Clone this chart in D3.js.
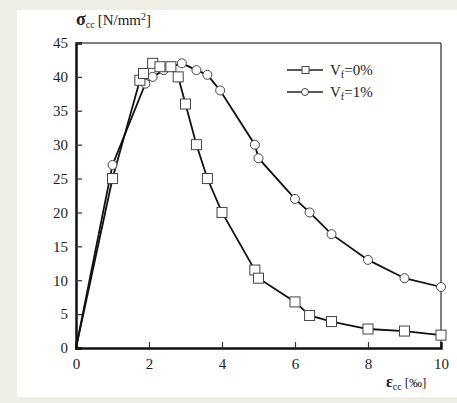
<!DOCTYPE html>
<html>
<head>
<meta charset="utf-8">
<script src="https://cdn.jsdelivr.net/npm/d3@7"></script>
<style>
  body { margin: 0; background: #efeee5; }
  text { font-family: "Liberation Serif", "DejaVu Serif", serif; fill: #222; }
</style>
</head>
<body>
<div id="chart"></div>
<script>
// strain [per mille] / stress [N/mm2]
var series0 = [[0,0],[1.0,25],[1.75,39.5],[1.85,40.5],[2.1,42],[2.3,41.5],[2.6,41.5],[2.8,40],[3.0,36],[3.3,30],[3.6,25],[4.0,20],[4.9,11.5],[5.0,10.3],[6.0,6.8],[6.4,4.8],[7.0,3.9],[8.0,2.8],[9.0,2.5],[10,1.9]];
var series1 = [[0,0],[1.0,27],[1.9,39],[2.1,40],[2.4,41],[2.6,41.5],[2.9,42],[3.3,41],[3.6,40.3],[3.95,38],[4.9,30],[5.0,28],[6.0,22],[6.4,20],[7.0,16.8],[8.0,13],[9.0,10.3],[10,9]];
var yTicks = [0,5,10,15,20,25,30,35,40,45];
var xTicks = [0,2,4,6,8,10];
var legendLabels = ["0%", "1%"];

var width = 457, height = 403;
var svg = d3.select("#chart").append("svg")
    .attr("width", width).attr("height", height);

// white panel
svg.append("rect").attr("x", 17).attr("y", 10)
    .attr("width", width - 17).attr("height", 387).attr("fill", "#fff");

var x = d3.scaleLinear().domain([0, 10]).range([76, 441]);
var y = d3.scaleLinear().domain([0, 45]).range([348, 43]);

// frame: top/right thin
svg.append("line").attr("x1", x(0)).attr("x2", x(10)).attr("y1", y(45)).attr("y2", y(45))
    .attr("stroke", "#555").attr("stroke-width", 1.5);
svg.append("line").attr("x1", x(10)).attr("x2", x(10)).attr("y1", y(45)).attr("y2", y(0))
    .attr("stroke", "#555").attr("stroke-width", 1.5);

// axes
var yAxis = d3.axisLeft(y).tickValues(yTicks).tickSize(-6).tickPadding(8);
var gy = svg.append("g").attr("transform", "translate(" + x(0) + ",0)").call(yAxis);
gy.select(".domain").attr("stroke", "#111").attr("stroke-width", 2.5);
gy.selectAll(".tick line").attr("stroke", "#333").attr("stroke-width", 1.2);
gy.selectAll(".tick text").style("font-size", "15px").attr("fill", "#222")
    .style("font-family", "Liberation Serif, serif");

var xAxis = d3.axisBottom(x).tickValues(xTicks).tickSize(-6).tickPadding(10);
var gx = svg.append("g").attr("transform", "translate(0," + y(0) + ")").call(xAxis);
gx.select(".domain").attr("stroke", "#111").attr("stroke-width", 2.5);
gx.selectAll(".tick line").attr("stroke", "#333").attr("stroke-width", 1.2)
    .attr("display", function(d) { return (d === 0 || d === 10) ? "none" : null; });
gx.selectAll(".tick text").style("font-size", "15px").attr("fill", "#222")
    .style("font-family", "Liberation Serif, serif");

// lines
var line = d3.line().x(function(d) { return x(d[0]); }).y(function(d) { return y(d[1]); });
[series0, series1].forEach(function(s) {
  svg.append("path").datum(s).attr("d", line)
      .attr("fill", "none").attr("stroke", "#111").attr("stroke-width", 1.8);
});

// markers
svg.append("g").selectAll("circle").data(series1.slice(1)).enter().append("circle")
    .attr("cx", function(d) { return x(d[0]); })
    .attr("cy", function(d) { return y(d[1]); })
    .attr("r", 4.5).attr("fill", "#fff").attr("stroke", "#444").attr("stroke-width", 1);
svg.append("g").selectAll("rect").data(series0.slice(1)).enter().append("rect")
    .attr("x", function(d) { return x(d[0]) - 5; })
    .attr("y", function(d) { return y(d[1]) - 5; })
    .attr("width", 10).attr("height", 10)
    .attr("fill", "#fff").attr("stroke", "#444").attr("stroke-width", 1);

// legend
var leg = svg.append("g");
legendLabels.forEach(function(lab, i) {
  var ly = 70 + i * 22;
  leg.append("line").attr("x1", 287).attr("x2", 323).attr("y1", ly).attr("y2", ly)
      .attr("stroke", "#222").attr("stroke-width", 1.5);
  if (i === 0) {
    leg.append("rect").attr("x", 302).attr("y", ly - 3.5).attr("width", 7).attr("height", 7)
        .attr("fill", "#fff").attr("stroke", "#444");
  } else {
    leg.append("circle").attr("cx", 305).attr("cy", ly).attr("r", 3.5)
        .attr("fill", "#fff").attr("stroke", "#444");
  }
  var t = leg.append("text").attr("x", 330).attr("y", ly + 5).style("font-size", "15px");
  t.append("tspan").text("V");
  t.append("tspan").attr("dy", 3).style("font-size", "10px").text("f");
  t.append("tspan").attr("dy", -3).text("=" + lab);
});

// axis titles
var ty = svg.append("text").attr("x", 76).attr("y", 25).style("font-size", "15px");
ty.append("tspan").style("font-weight", "bold").style("font-size", "18px").text("σ");
ty.append("tspan").attr("dy", 3).style("font-size", "10px").text("cc");
ty.append("tspan").attr("dy", -3).attr("dx", 3).text("[N/mm");
ty.append("tspan").attr("dy", -5).style("font-size", "10px").text("2");
ty.append("tspan").attr("dy", 5).text("]");

var tx = svg.append("text").attr("x", 386).attr("y", 387).style("font-size", "13px");
tx.append("tspan").style("font-weight", "bold").style("font-size", "16px").text("ε");
tx.append("tspan").attr("dy", 3).style("font-size", "10px").text("cc");
tx.append("tspan").attr("dy", -3).attr("dx", 3).text("[‰]");
</script>
</body>
</html>
